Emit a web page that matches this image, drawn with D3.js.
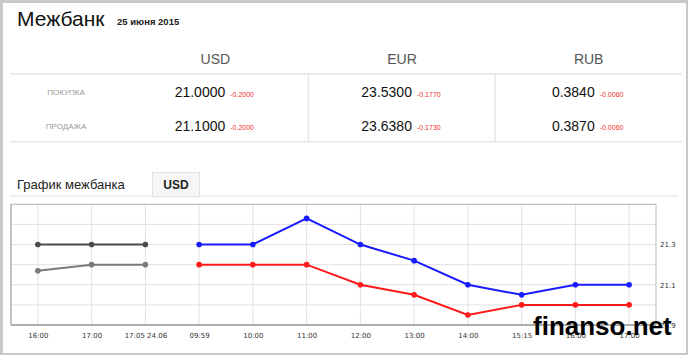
<!DOCTYPE html>
<html><head><meta charset="utf-8">
<script src="https://cdn.jsdelivr.net/npm/d3@7"></script>
<style>html,body{margin:0;padding:0;background:#fff;}svg{display:block;}</style>
</head><body>
<svg id="c" width="688" height="355"></svg>
<script>
const currencies = ["USD", "EUR", "RUB"];
const rowLabels = ["ПОКУПКА", "ПРОДАЖА"];
const buyRates = ["21.0000", "23.5300", "0.3840"];
const buyChanges = ["-0.2000", "-0.1770", "-0.0060"];
const sellRates = ["21.1000", "23.6380", "0.3870"];
const sellChanges = ["-0.2000", "-0.1730", "-0.0060"];

const categories = ["16:00", "17:00", "17:05 24.06", "09:59", "10:00", "11:00", "12:00", "13:00", "14:00", "15:15", "16:00", "17:00"];
const sellYesterday = [21.3, 21.3, 21.3, null, null, null, null, null, null, null, null, null];
const buyYesterday  = [21.17, 21.2, 21.2, null, null, null, null, null, null, null, null, null];
const sellToday = [null, null, null, 21.3, 21.3, 21.43, 21.3, 21.22, 21.1, 21.05, 21.1, 21.1];
const buyToday  = [null, null, null, 21.2, 21.2, 21.2, 21.1, 21.05, 20.95, 21.0, 21.0, 21.0];
const gridValues = [20.9, 21.0, 21.1, 21.2, 21.3, 21.4, 21.5];
const yTickLabels = [20.9, 21.1, 21.3];

const svg = d3.select("#c");
const F = "'Liberation Sans', Arial, sans-serif";
const FV = "'DejaVu Sans', Verdana, sans-serif";

// outer frame
svg.append("rect").attr("x",0).attr("y",0).attr("width",688).attr("height",355).attr("fill","#c9c9c9");
svg.append("rect").attr("x",3).attr("y",3).attr("width",683).attr("height",350).attr("fill","#fff");

// title
svg.append("text").attr("x",17).attr("y",26).attr("font-family",F).attr("font-size",21).attr("fill","#111").text("Межбанк");
svg.append("text").attr("x",117).attr("y",25).attr("font-family",F).attr("font-size",9.5).attr("font-weight","bold").attr("fill","#222").text("25 июня 2015");

// table
const colX = d3.scaleBand().domain(currencies).range([122, 682]);
svg.append("g").selectAll("text").data(currencies).join("text")
  .attr("x", d => colX(d) + colX.bandwidth()/2).attr("y", 64)
  .attr("text-anchor","middle").attr("font-family",F).attr("font-size",14).attr("fill","#555").text(d => d);
svg.append("rect").attr("x",10).attr("y",73).attr("width",672).attr("height",2).attr("fill","#ececec");
svg.append("rect").attr("x",10).attr("y",141).attr("width",672).attr("height",1.5).attr("fill","#e6e6e6");
svg.append("g").selectAll("rect").data(currencies.slice(1)).join("rect")
  .attr("x", d => colX(d) - 1).attr("y",75).attr("width",1.5).attr("height",66).attr("fill","#e6e6e6");

const rowY = [97, 130.5];
rowLabels.forEach((lab, i) => {
  svg.append("text").attr("x",66).attr("y",rowY[i]-2).attr("text-anchor","middle")
    .attr("font-family",F).attr("font-size",8).attr("fill","#999").text(lab);
});
[[buyRates, buyChanges],[sellRates, sellChanges]].forEach(([rates, changes], i) => {
  currencies.forEach((c, j) => {
    const t = svg.append("text").attr("x", colX(c) + colX.bandwidth()/2 - 1).attr("y", rowY[i])
      .attr("text-anchor","middle").attr("font-family",F);
    t.append("tspan").attr("font-size",14).attr("fill","#111").text(rates[j]);
    t.append("tspan").attr("font-size",7).attr("fill","#f03030").attr("dx",5).attr("dy",-0.5).text(changes[j]);
  });
});

// tabs
svg.append("text").attr("x",17).attr("y",189).attr("font-family",F).attr("font-size",13).attr("fill","#222").text("График межбанка");
svg.append("rect").attr("x",10).attr("y",195.5).attr("width",668).attr("height",1).attr("fill","#e4e4e4");
svg.append("rect").attr("x",152.5).attr("y",172.5).attr("width",47).attr("height",24).attr("fill","#f6f6f6").attr("stroke","#e0e0e0");
svg.append("text").attr("x",176).attr("y",189).attr("text-anchor","middle").attr("font-family",F).attr("font-size",12).attr("font-weight","bold").attr("fill","#222").text("USD");

// chart
const x = d3.scalePoint().domain(d3.range(categories.length)).range([11, 656]).padding(0.5);
const y = d3.scaleLinear().domain([20.9, 21.5]).range([325, 204.3]);

const g = svg.append("g");
g.selectAll("line.h").data(gridValues).join("line").attr("class","h")
  .attr("x1",11).attr("x2",656).attr("y1",d=>y(d)).attr("y2",d=>y(d)).attr("stroke","#e2e2e2").attr("stroke-width",1);
g.selectAll("line.v").data(d3.range(categories.length)).join("line").attr("class","v")
  .attr("x1",d=>x(d)).attr("x2",d=>x(d)).attr("y1",204).attr("y2",325).attr("stroke","#e2e2e2").attr("stroke-width",1);
g.append("rect").attr("x",11).attr("y",204.3).attr("width",645).attr("height",120.7).attr("fill","none").attr("stroke","#bbb").attr("stroke-width",1);
g.append("line").attr("x1",11).attr("x2",656).attr("y1",325).attr("y2",325).attr("stroke","#888");
g.append("line").attr("x1",11).attr("x2",11).attr("y1",204).attr("y2",325).attr("stroke","#aaa");

// x axis labels
const xAxis = d3.axisBottom(x).tickSize(0).tickPadding(0).tickFormat(i => categories[i]);
const xa = svg.append("g").attr("transform","translate(0,333)").call(xAxis);
xa.select(".domain").remove();
xa.selectAll("text").attr("font-family",FV).attr("font-size",7).attr("fill","#333");

// y axis labels
const yAxis = d3.axisRight(y).tickValues(yTickLabels).tickSize(0).tickPadding(0).tickFormat(d3.format(".1f"));
const ya = svg.append("g").attr("transform","translate(660,0)").call(yAxis);
ya.select(".domain").remove();
ya.selectAll("text").attr("font-family",FV).attr("font-size",7).attr("fill","#333");

const series = [
  {v: buyYesterday, c: "#7a7a7a"},
  {v: sellYesterday, c: "#4a4a4a"},
  {v: buyToday, c: "#ff1a1a"},
  {v: sellToday, c: "#1a1aff"}
];
const line = d3.line().defined(d => d[1] != null).x(d => x(d[0])).y(d => y(d[1]));
series.forEach(s => {
  const pts = s.v.map((v, i) => [i, v]);
  svg.append("path").datum(pts).attr("d", line).attr("fill","none").attr("stroke", s.c).attr("stroke-width",2);
  svg.append("g").selectAll("circle").data(pts.filter(p => p[1] != null)).join("circle")
    .attr("cx", p => x(p[0])).attr("cy", p => y(p[1])).attr("r", 2.8).attr("fill", s.c);
});

// watermark
svg.append("text").attr("x",533).attr("y",335).attr("font-family",F).attr("font-size",26).attr("font-weight","bold").attr("fill","#000").text("finanso.net");
</script>
</body></html>
